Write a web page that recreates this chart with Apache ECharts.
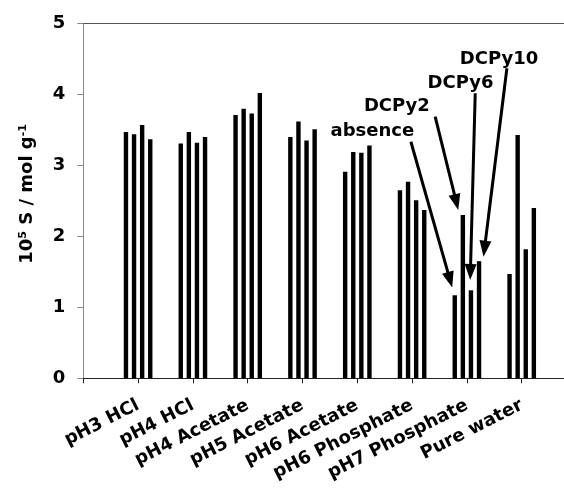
<!DOCTYPE html>
<html><head><meta charset="utf-8">
<script src="https://cdn.jsdelivr.net/npm/echarts@6/dist/echarts.min.js"></script>
<style>html,body{margin:0;padding:0;background:#fff}#c{width:564px;height:497px}</style>
</head><body><div id="c"></div>
<script>
// ---- data ----
const categories = ['pH3 HCl','pH4 HCl','pH4 Acetate','pH5 Acetate','pH6 Acetate','pH6 Phosphate','pH7 Phosphate','Pure water'];
const seriesNames = ['absence','DCPy2','DCPy6','DCPy10'];
const absence = [3.47, 3.31, 3.71, 3.40, 2.91, 2.65, 1.17, 1.47];
const dcpy2   = [3.44, 3.47, 3.80, 3.62, 3.19, 2.77, 2.30, 3.43];
const dcpy6   = [3.57, 3.32, 3.73, 3.35, 3.18, 2.51, 1.24, 1.82];
const dcpy10  = [3.37, 3.40, 4.02, 3.51, 3.28, 2.37, 1.65, 2.40];
const yMin = 0, yMax = 5, yStep = 1;
// annotation positions in data space (x: slot index 0..9, y: value)
const annotationLabels = ['absence','DCPy2','DCPy6','DCPy10'];
const annotationTextPos = [[5.275,3.478],[5.722,3.827],[6.883,4.157],[7.586,4.490]];
const annotationFrom = [[5.978,3.334],[6.421,3.687],[7.152,4.016],[7.730,4.369]];
const annotationTo   = [[6.692,1.388],[6.807,2.482],[7.064,1.498],[7.321,1.825]];

const FONT = 'DejaVu Sans';
const allValues = [absence, dcpy2, dcpy6, dcpy10];
const slots = [''].concat(categories, ['']);

const chart = echarts.init(document.getElementById('c'), null, {renderer:'canvas'});
const barSeries = seriesNames.map((n, i) => ({
  name: n, type: 'bar', xAxisIndex: 0, yAxisIndex: 0,
  data: [null].concat(allValues[i], [null]),
  barWidth: 4.4, barGap: '84%',
  itemStyle: {color: '#000'}, silent: true
}));

const option = {
  animation: false,
  backgroundColor: '#fff',
  grid: {left: 83.3, top: 23.5, bottom: 118.7, right: -12.5, containLabel: false, outerBoundsMode: 'none'},
  xAxis: [
    {
      type: 'category', data: slots, boundaryGap: false, position: 'bottom',
      axisLine: {lineStyle: {color: '#222', width: 1}},
      axisTick: {show: true, length: 5, interval: 0, lineStyle: {color: '#222'}},
      axisLabel: {interval: 0, rotate: 27, margin: 26, fontFamily: FONT, fontWeight: 'bold', fontSize: 18, color: '#000'},
      splitLine: {show: false}
    },
    {
      type: 'value', min: 0, max: 9, position: 'top',
      axisLine: {show: true, onZero: false, lineStyle: {color: '#555', width: 1}},
      axisTick: {show: false}, axisLabel: {show: false}, splitLine: {show: false}
    }
  ],
  yAxis: {
    type: 'value', min: yMin, max: yMax, interval: yStep,
    axisLine: {show: true, lineStyle: {color: '#888', width: 1}},
    axisTick: {show: true, length: 6, lineStyle: {color: '#888'}},
    axisLabel: {margin: 18, fontFamily: FONT, fontWeight: 'bold', fontSize: 18, color: '#000'},
    splitLine: {show: false},
    name: '10{sup|5} S / mol g{sup|-1}',
    nameLocation: 'middle', nameGap: 46, nameRotate: 90,
    nameTextStyle: {
      fontFamily: FONT, fontWeight: 'bold', fontSize: 18, color: '#000', padding: [0, 0, 0, 14],
      rich: {sup: {fontFamily: FONT, fontWeight: 'bold', fontSize: 11, color: '#000', padding: [0, 0, 9, 0]}}
    }
  },
  series: barSeries.concat([{
    type: 'scatter', xAxisIndex: 1, yAxisIndex: 0, symbolSize: 0, silent: true,
    itemStyle: {opacity: 1},
    data: annotationLabels.map((t, i) => ({name: t, value: annotationTextPos[i]})),
    label: {show: true, position: 'inside', formatter: '{b}', fontFamily: FONT, fontWeight: 'bold', fontSize: 18, color: '#000', opacity: 1},
    markLine: {
      silent: true, symbol: ['none', 'triangle'], symbolSize: [12, 16], precision: 4,
      lineStyle: {color: '#000', width: 3, type: 'solid', opacity: 1},
      itemStyle: {color: '#000'},
      label: {show: false},
      data: annotationFrom.map((f, i) => [{coord: f}, {coord: annotationTo[i]}])
    }
  }])
};
chart.setOption(option);
</script></body></html>
